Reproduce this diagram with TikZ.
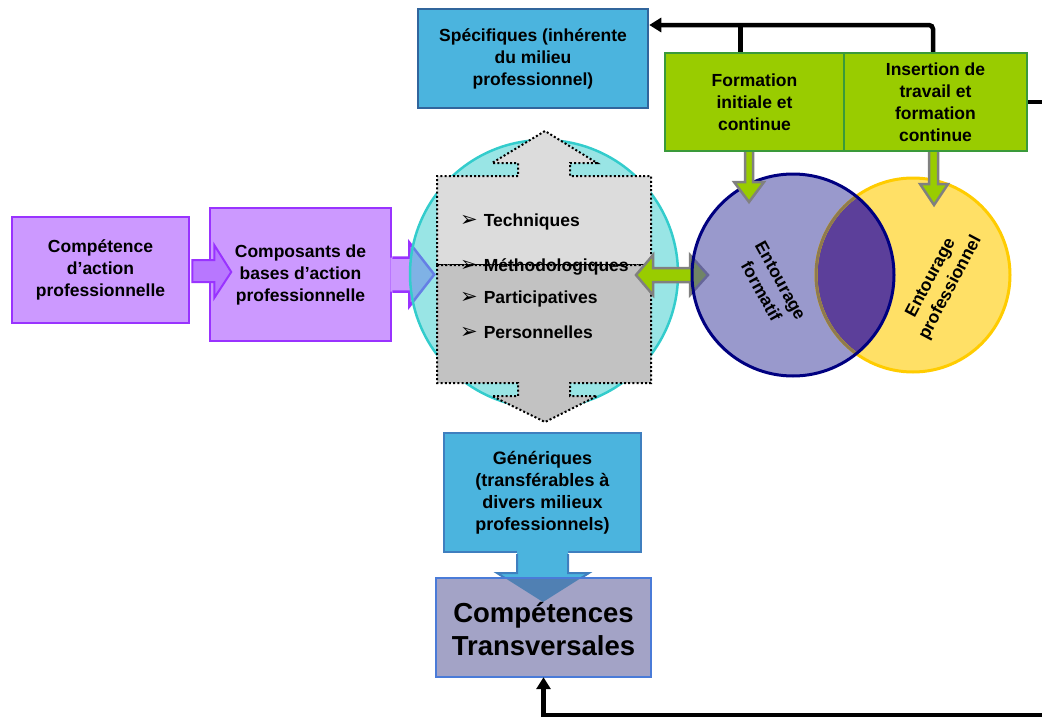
\documentclass[tikz,border=0pt]{standalone}
\usepackage{fontspec}
\setmainfont{Liberation Sans}
\newfontfamily\dingfont{DejaVu Sans}
\usetikzlibrary{calc,arrows.meta}

\definecolor{lilac}{HTML}{CC99FF}
\definecolor{violetline}{HTML}{9933FF}
\definecolor{violetarrow}{HTML}{B877FF}
\definecolor{skyfill}{HTML}{4BB4DE}
\definecolor{skyline}{HTML}{31659C}
\definecolor{skyline2}{HTML}{3F7FBF}
\definecolor{leaf}{HTML}{99CC00}
\definecolor{leafline}{HTML}{3A9A3A}
\definecolor{tealring}{HTML}{33CCCC}
\definecolor{greyline}{HTML}{808080}
\definecolor{grayup}{HTML}{DCDCDC}
\definecolor{graydown}{HTML}{C2C2C2}
\definecolor{navy}{HTML}{000080}
\definecolor{mauve}{HTML}{5555AA}
\definecolor{sun}{HTML}{FFE066}
\definecolor{gold}{HTML}{FFCC00}
\definecolor{overlap}{HTML}{5C3F9A}
\definecolor{bronze}{HTML}{8E7A4E}
\definecolor{slate}{HTML}{A3A3C6}
\definecolor{slateline}{HTML}{4A7BD8}
\definecolor{headdark}{HTML}{5080B3}

\tikzset{
  txt/.style={font=\fontsize{17.5}{22}\selectfont\bfseries, align=center},
  card/.style={txt, draw, line width=2.5pt, inner sep=0pt},
  purplecard/.style={card, fill=lilac, draw=violetline},
  bluecard/.style={card, fill=skyfill, draw=skyline},
  greencard/.style={card, fill=leaf, draw=leafline},
  item/.style={font=\fontsize{17.5}{20}\selectfont\bfseries, anchor=west, inner sep=0pt},
  dotline/.style={line width=2pt, dash pattern=on 2pt off 2.2pt, black},
  blockgreen/.style={fill=leaf, draw=greyline, line width=2.5pt, line join=miter},
  blk/.style={line width=4.5pt, black},
  tip/.style={-{Triangle[length=12pt,width=14pt]}},
}
\newcommand{\bulletmark}{{\dingfont\fontsize{21}{21}\selectfont ➢}\hspace{6pt}}

\begin{document}
\begin{tikzpicture}[x=1pt,y=-1pt]
\useasboundingbox (0,0) rectangle (1042,720);
\clip (0,0) rectangle (1042,720);

% ---------- left chain ----------
\node[purplecard, minimum width=177pt, minimum height=106pt] (comp) at (100.5,270)
  {Compétence\\d’action\\professionnelle};
\node[purplecard, minimum width=181pt, minimum height=133pt] (compos) at (300.5,274.5)
  {Composants de\\bases d’action\\professionnelle};

% arrow leaving the second box
\begin{scope}[shift={(compos.east)}]
  \fill[lilac] (-2,-17) -- (17,-17) -- (17,-32) -- (42,0) -- (17,32) -- (17,17) -- (-2,17) -- cycle;
  \draw[violetline, line width=2.5pt] (0,-17) -- (17,-17) -- (17,-32) -- (42,0) -- (17,32) -- (17,17) -- (0,17);
\end{scope}

% small arrow between the two purple boxes
\begin{scope}[shift={(comp.east)}]
  \draw[fill=violetarrow, draw=violetline, line width=2pt]
    (2,-10) -- (24,-10) -- (24,-25) -- (41,2) -- (24,28) -- (24,12) -- (2,12) -- cycle;
\end{scope}

% ---------- central disc ----------
\node[circle, minimum size=268pt, fill=tealring, fill opacity=0.5, draw=tealring, line width=2.5pt] (core) at (544,274) {};

\begin{scope}[shift={(core.center)}]
  % upper arrow
  \draw[dotline, fill=grayup] (-107,-9) -- (-107,-98) -- (-26,-98) -- (-26,-111) -- (-52,-111) -- (1,-143)
    -- (53,-111) -- (26,-111) -- (26,-98) -- (107,-98) -- (107,-9) -- cycle;
  % lower arrow
  \draw[dotline, fill=graydown] (-107,-9) -- (107,-9) -- (107,109) -- (26,109) -- (26,122) -- (53,122)
    -- (1,148) -- (-52,122) -- (-26,122) -- (-26,109) -- (-107,109) -- cycle;
\end{scope}

\node[item] (t1) at (460,222) {\bulletmark Techniques};
\node[item] (t2) at (460,267) {\bulletmark Méthodologiques};
\node[item] (t3) at (460,299) {\bulletmark Participatives};
\node[item] (t4) at (460,332) {\bulletmark Personnelles};
\draw[dotline] (437,265) -- (651,265);

% ---------- double arrow to the two circles ----------
\draw[blockgreen] (636,275) -- (653,255) -- (653,268) -- (690,268) -- (690,255) -- (708,275)
  -- (690,295) -- (690,282) -- (653,282) -- (653,295) -- cycle;

% ---------- the two circles ----------
\fill[sun] (913,275) circle[radius=97pt];
\fill[mauve, fill opacity=0.6] (793,275) circle[radius=101pt];
\begin{scope}
  \clip (793,275) circle[radius=101pt];
  \fill[overlap] (913,275) circle[radius=97pt];
\end{scope}
\draw[gold, line width=3pt] (913,275) circle[radius=97pt];
\begin{scope}
  \clip (793,275) circle[radius=101pt];
  \draw[bronze, line width=3pt] (913,275) circle[radius=97pt];
\end{scope}
\draw[navy, line width=3pt] (793,275) circle[radius=101pt];
\node[circle, minimum size=202pt, inner sep=0pt] (form) at (793,275) {};
\node[circle, minimum size=194pt, inner sep=0pt] (pro) at (913,275) {};

\node[txt, rotate=-61] (formlbl) at (771,286) {Entourage\\formatif};
\node[txt, rotate=62] (prolbl) at (941,283) {Entourage\\professionnel};

% ---------- top boxes ----------
\node[bluecard, minimum width=230pt, minimum height=99pt] (spec) at (533,58.5)
  {Spécifiques (inhérente\\du milieu\\professionnel)};
\node[greencard, minimum width=179pt, minimum height=98pt] (fbox) at (754.5,102)
  {Formation\\initiale et\\continue};
\node[greencard, minimum width=183pt, minimum height=98pt] (ibox) at (935.5,102)
  {Insertion de\\travail et\\formation\\continue};

% green arrows down into the circles
\draw[blockgreen] (745,152) -- (745,182) -- (734,182) -- (749,202) -- (764,182) -- (753,182) -- (753,152);
\draw[blockgreen] (929,152) -- (929,184) -- (920,184) -- (934,205) -- (948,184) -- (938,184) -- (938,152);

% ---------- bottom boxes ----------
\node[card, fill=skyfill, draw=skyline2, minimum width=197pt, minimum height=119pt,
  font=\fontsize{18}{22}\selectfont\bfseries] (gen) at (542.5,492.5)
  {Génériques\\(transférables à\\divers milieux\\professionnels)};
\fill[skyfill] (517,550) -- (517,573) -- (497,573) -- (543,602) -- (589,573) -- (568,573) -- (568,550) -- cycle;
\draw[skyline2, line width=2pt] (517,554) -- (517,573) -- (497,573) -- (543,602) -- (589,573) -- (568,573) -- (568,554);

\node[inner sep=0pt, fill=slate, minimum width=215pt, minimum height=99pt] (trans) at (543.5,627.5) {};
\fill[headdark] (505,578) -- (581,578) -- (543,602) -- cycle;
\draw[slateline, line width=2.5pt] (trans.north west) rectangle (trans.south east);
\node[font=\fontsize{27.5}{33}\selectfont\bfseries, align=center] (translbl) at ($(trans.center)+(0,2)$)
  {Compétences\\Transversales};

% ---------- black feedback connectors ----------
\coordinate (ytop) at (0,25);
\coordinate (lt) at ($(fbox.north)+(-14,0)$);
\coordinate (rt) at ($(ibox.north)+(-2.5,0)$);
\coordinate (far) at (1075,715);
\draw[blk, tip, rounded corners=4pt] (rt) |- (spec.east |- ytop);
\draw[blk] (lt) -- (lt |- ytop);
\draw[blk, tip] (ibox.east) -| (far) -| (trans.south);

\end{tikzpicture}
\end{document}
